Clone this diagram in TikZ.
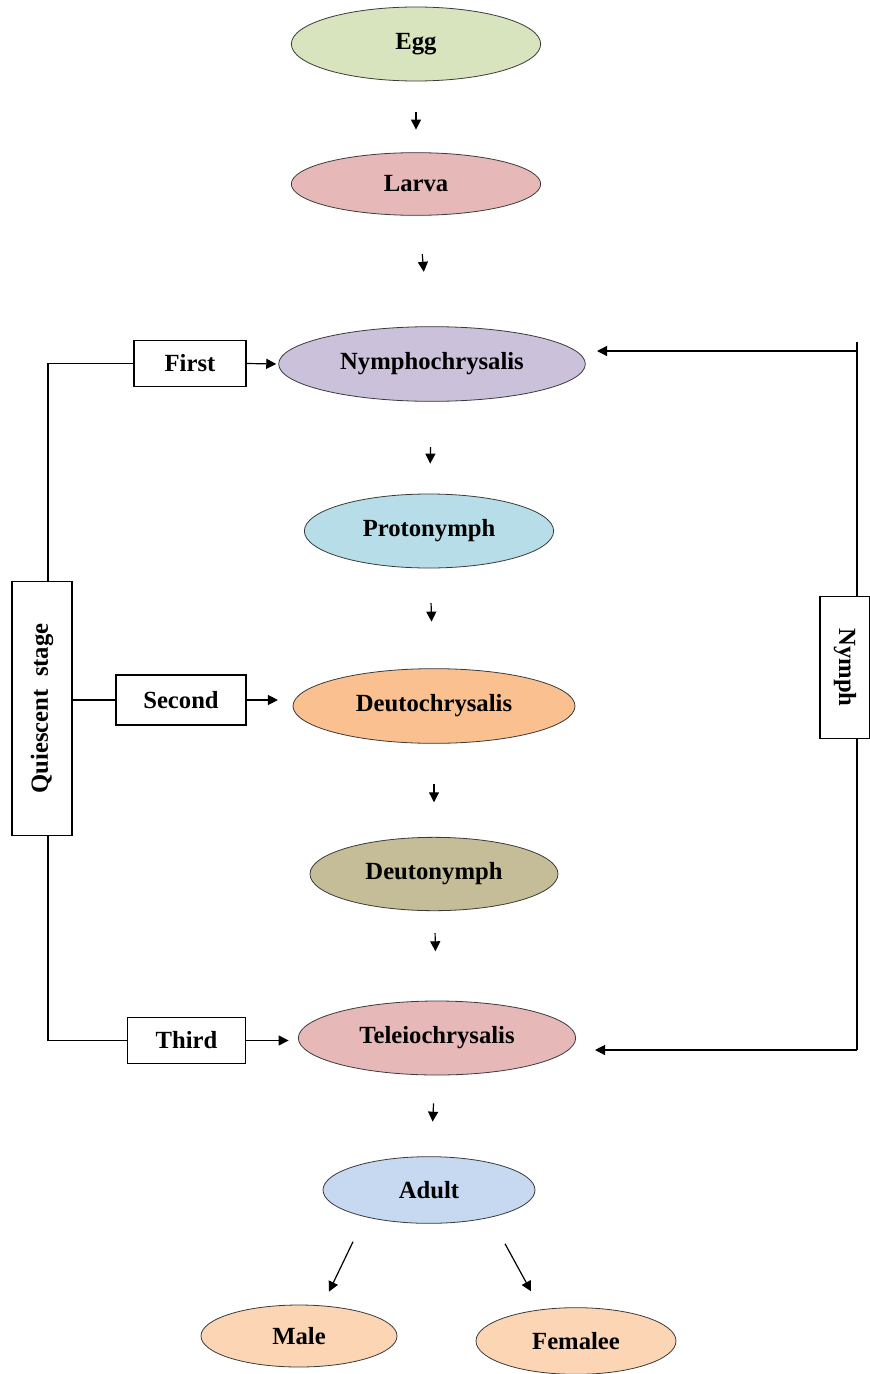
\documentclass[tikz,border=0pt]{standalone}
\usepackage{fontspec}
\setmainfont{Liberation Serif}
\usetikzlibrary{arrows.meta,positioning,shapes.geometric,calc}
\definecolor{MiteEgg}{HTML}{D7E4BD}
\definecolor{MiteRose}{HTML}{E6B9B8}
\definecolor{MiteLilac}{HTML}{CCC1DA}
\definecolor{MiteAqua}{HTML}{B7DEE8}
\definecolor{MiteOrange}{HTML}{FAC090}
\definecolor{MiteOlive}{HTML}{C4BD97}
\definecolor{MiteBlue}{HTML}{C6D9F1}
\definecolor{MitePeach}{HTML}{FCD5B5}
\definecolor{MiteLine}{HTML}{3A3A3A}

\begin{document}
\begin{tikzpicture}[x=0.75pt, y=-0.75pt,
    stage/.style={ellipse, draw=MiteLine, line width=0.6pt, inner sep=0pt,
      font=\bfseries\fontsize{18.5}{22}\selectfont},
    tag/.style={draw=black, line width=0.8pt, fill=white, inner sep=0pt,
      font=\bfseries\fontsize{18.5}{22}\selectfont},
    link/.style={draw=black, line width=0.9pt},
    arr/.style={link, -{Triangle[length=7.5pt,width=7.5pt]}},
    gap/.style 2 args={shorten <=#1, shorten >=#2}
  ]
    \useasboundingbox (0,0) rectangle (869,1374);
    % life stages
    \node[stage, fill=MiteEgg, minimum width=187pt, minimum height=55.5pt] (egg) at (416,44) {Egg};
    \node[stage, fill=MiteRose, minimum width=187pt, minimum height=47pt] (larva) at (416,184) {Larva};
    \node[stage, fill=MiteLilac, minimum width=230pt, minimum height=56pt] (nympho) at (432,364) {Nymphochrysalis};
    \node[stage, fill=MiteAqua, minimum width=187pt, minimum height=55.5pt] (proto) at (429,531) {Protonymph};
    \node[stage, fill=MiteOrange, minimum width=211.5pt, minimum height=56pt] (deutochr) at (434,706) {Deutochrysalis};
    \node[stage, fill=MiteOlive, minimum width=186pt, minimum height=55pt] (deuto) at (434,874) {Deutonymph};
    \node[stage, fill=MiteRose, minimum width=208pt, minimum height=55.5pt] (teleio) at (437,1038) {Teleiochrysalis};
    \node[stage, fill=MiteBlue, minimum width=159pt, minimum height=50pt] (adult) at (429,1190) {Adult};
    \node[stage, fill=MitePeach, minimum width=147pt, minimum height=46.5pt] (male) at (299,1336) {Male};
    \node[stage, fill=MitePeach, minimum width=150pt, minimum height=50pt] (female) at (576,1341) {Femalee};

    % quiescent side
    \node[tag, minimum width=84pt, minimum height=35pt] (first) at (190,363.5) {First};
    \node[tag, minimum width=97.5pt, minimum height=37.5pt] (second) at (181,700) {Second};
    \node[tag, minimum width=89pt, minimum height=34pt] (third) at (186.5,1040.5) {Third};
    \node[tag, rotate=90, minimum width=191pt, minimum height=45pt] (quies) at (42,708.5) {Quiescent~~stage};

    % nymph side
    \node[tag, rotate=-90, minimum width=106pt, minimum height=37.5pt] (nymph) at (845,667.5) {Nymph};
    \coordinate (rtop) at (857,342);
    \coordinate (rin) at (857,351);
    \coordinate (rout) at (857,1050);

    % main sequence
    \draw[arr, gap={23pt}{17pt}] (egg) -- (larva);
    \draw[arr, gap={29pt}{41pt}] (larva) -- (nympho);
    \draw[arr, gap={34pt}{22.5pt}] (nympho) -- (proto);
    \draw[arr, gap={26pt}{35pt}] (proto) -- (deutochr);
    \draw[arr, gap={30pt}{26pt}] (deutochr) -- (deuto);
    \draw[arr, gap={16.5pt}{37pt}] (deuto) -- (teleio);
    \draw[arr, gap={21pt}{26pt}] (teleio) -- (adult);
    \draw[arr] ([xshift=-57pt,yshift=-13.5pt]adult.south) -- ([xshift=22.5pt,yshift=9.75pt]male.north);
    \draw[arr] ([xshift=57pt,yshift=-15pt]adult.south) -- ([xshift=-33.75pt,yshift=12pt]female.north);

    % quiescent links
    \draw[link] (first.west) -| ([xshift=4.5pt]quies.east);
    \draw[link] ([xshift=4.5pt]quies.west) |- (third.west);
    \draw[link] (quies.south |- second.west) -- (second.west);
    \draw[arr, shorten >=1.5pt] (first.east) -- (nympho.west);
    \draw[arr, shorten >=11pt] (second.east) -- (second.east -| deutochr.west);
    \draw[arr, shorten >=7pt] (third.east) -- (third.east -| teleio.west);

    % nymph links
    \draw[link] (rtop) -- (rtop |- nymph.west);
    \draw[link] (rout |- nymph.east) -- (rout);
    \draw[arr] (rin) -- ++(-260,0);
    \draw[arr] (rout) -- ++(-262,0);
  \end{tikzpicture}
\end{document}
